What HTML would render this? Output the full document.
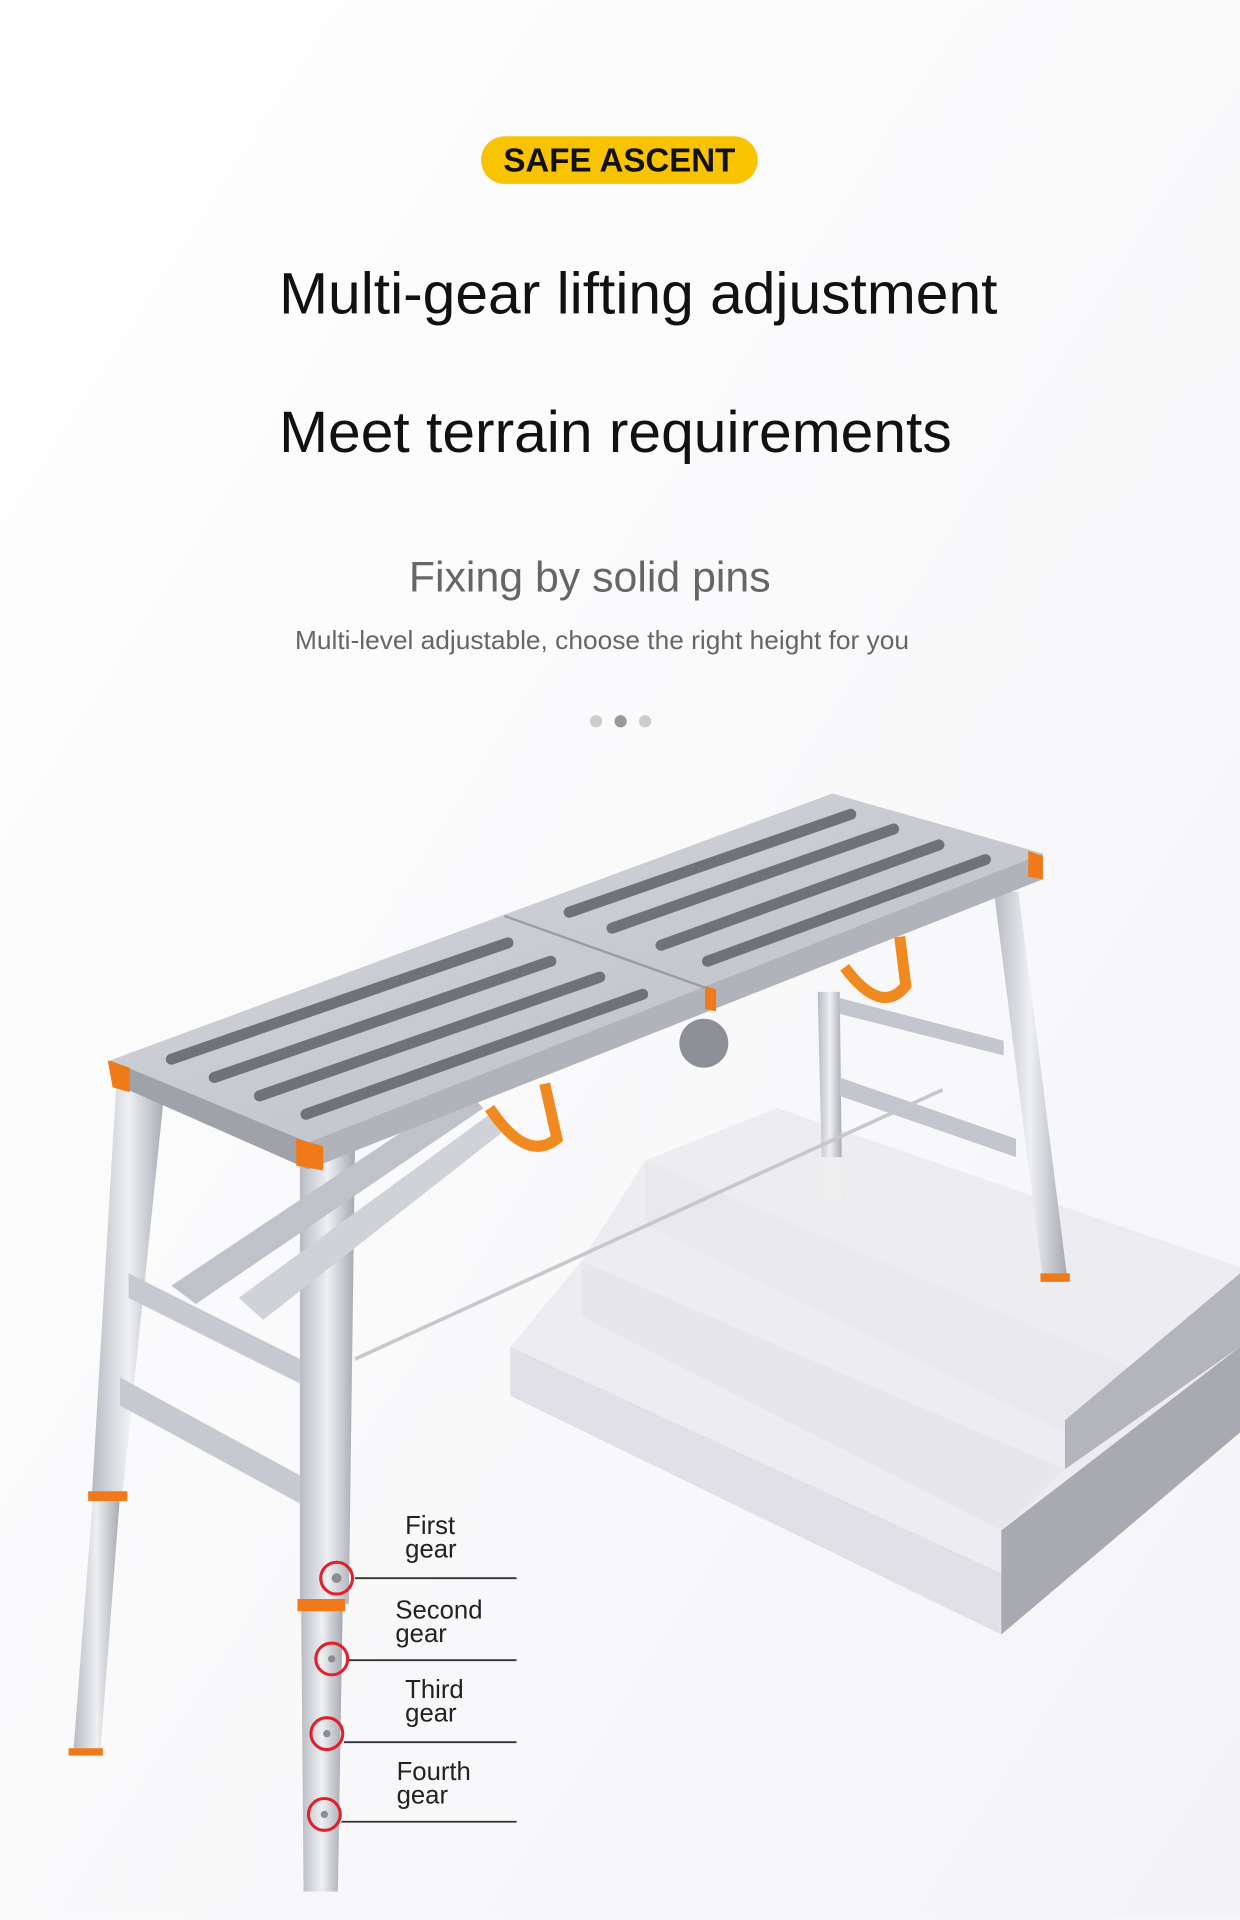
<!DOCTYPE html>
<html><head><meta charset="utf-8"><style>
html,body{margin:0;padding:0;background:#fff;}
svg{display:block;}
text{font-family:"Liberation Sans",Arial,sans-serif;}
</style></head><body>
<svg width="1240" height="1920" viewBox="0 0 1013 1568" xmlns="http://www.w3.org/2000/svg">
<defs>
<linearGradient id="bg" x1="0" y1="0" x2="1" y2="1"><stop offset="0" stop-color="#ffffff"/><stop offset="1" stop-color="#f4f4f7"/></linearGradient>
<linearGradient id="leg" x1="0" y1="0" x2="1" y2="0"><stop offset="0" stop-color="#b8bbc2"/><stop offset="0.5" stop-color="#eef0f3"/><stop offset="1" stop-color="#a5a8b0"/></linearGradient>
<linearGradient id="top" x1="0" y1="0" x2="1" y2="1"><stop offset="0" stop-color="#d6d8dd"/><stop offset="1" stop-color="#b9bcc3"/></linearGradient>
</defs>
<rect width="1013" height="1568" fill="url(#bg)"/>
<rect x="393" y="111" width="226" height="39" rx="19.5" fill="#f8c300"/>
<text x="506" y="140" font-size="27" font-weight="bold" text-anchor="middle" fill="#111">SAFE ASCENT</text>
<text x="228" y="256" font-size="48" fill="#111">Multi-gear lifting adjustment</text>
<text x="228" y="369" font-size="48" fill="#111">Meet terrain requirements</text>
<text x="334" y="483" font-size="35" fill="#666">Fixing by solid pins</text>
<text x="241" y="530" font-size="21.5" fill="#666">Multi-level adjustable, choose the right height for you</text>
<circle cx="487" cy="589" r="5" fill="#ccc"/><circle cx="507" cy="589" r="5" fill="#999"/><circle cx="527" cy="589" r="5" fill="#ccc"/>
<polygon points="417,1100 475,1030 527,948 635,905 1013,1035 1013,1170 818,1335 417,1140" fill="#ededf1"/>
<polygon points="417,1100 818,1285 818,1335 417,1140" fill="#e0e0e6"/>
<polygon points="475,1030 870,1200 818,1250 475,1075" fill="#e6e6eb"/>
<polygon points="527,948 930,1120 870,1170 527,1000" fill="#e8e8ed"/>
<polygon points="818,1250 1013,1100 1013,1170 818,1335" fill="#a9a9b2"/>
<polygon points="870,1160 1013,1040 1013,1100 870,1200" fill="#b4b4bc"/>
<polygon points="668,810 686,810 688,978 672,978" fill="url(#leg)"/>
<polygon points="812,728 832,728 872,1045 852,1045" fill="url(#leg)"/>
<polygon points="686,880 830,930 830,945 686,895" fill="#c3c6cc"/>
<polygon points="686,815 820,850 820,862 686,828" fill="#c3c6cc"/>
<rect x="670" y="945" width="18" height="35" fill="#eee"/>
<line x1="290" y1="1110" x2="770" y2="890" stroke="#c8c8cc" stroke-width="3"/>
<polygon points="95,885 135,885 100,1222 75,1222" fill="url(#leg)"/>
<polygon points="76,1222 98,1222 82,1430 60,1430" fill="url(#leg)"/>
<polygon points="245,935 290,935 285,1310 245,1310" fill="url(#leg)"/>
<polygon points="246,1310 280,1310 276,1545 248,1545" fill="url(#leg)"/>
<polygon points="105,1040 245,1110 245,1130 105,1060" fill="#c6c9cf"/>
<polygon points="98,1125 245,1205 245,1228 98,1148" fill="#c6c9cf"/>
<polygon points="140,1050 380,890 395,905 160,1065" fill="#bfc2c8"/>
<polygon points="195,1060 400,910 410,925 215,1078" fill="#cfd2d7"/>
<polygon points="72,1218 104,1218 104,1226 72,1226" fill="#f07a1a"/>
<polygon points="243,1306 282,1306 282,1316 243,1316" fill="#f07a1a"/>
<polygon points="56,1428 84,1428 84,1434 56,1434" fill="#f07a1a"/>
<polygon points="850,1040 874,1040 874,1047 850,1047" fill="#f07a1a"/>
<path d="M400,905 Q430,950 455,930 L445,885" fill="none" stroke="#f08a20" stroke-width="9"/>
<path d="M690,790 Q720,830 740,805 L735,765" fill="none" stroke="#f08a20" stroke-width="9"/>
<circle cx="575" cy="852" r="20" fill="#8e9097"/>
<polygon points="90,866 680,648 852,697 252,933" fill="url(#top)"/>
<polygon points="90,866 252,933 252,955 100,888" fill="#9fa2a9"/>
<polygon points="252,933 852,697 852,718 252,955" fill="#b0b3ba"/>
<line x1="412" y1="748" x2="580" y2="808" stroke="#9a9da4" stroke-width="2"/>
<g stroke="#6f7279" stroke-width="9" stroke-linecap="round">
<line x1="140" y1="865" x2="415" y2="770"/>
<line x1="175" y1="880" x2="450" y2="785"/>
<line x1="212" y1="895" x2="490" y2="798"/>
<line x1="250" y1="910" x2="525" y2="812"/>
<line x1="465" y1="745" x2="695" y2="665"/>
<line x1="500" y1="758" x2="730" y2="677"/>
<line x1="540" y1="772" x2="767" y2="690"/>
<line x1="578" y1="785" x2="805" y2="702"/>
</g>
<polygon points="88,866 106,872 106,892 92,888" fill="#f07a1a"/>
<polygon points="242,930 264,936 264,956 242,952" fill="#f07a1a"/>
<polygon points="840,695 852,699 852,718 840,716" fill="#f07a1a"/>
<polygon points="576,805 585,808 585,826 576,824" fill="#f07a1a"/>
<g font-size="21" fill="#222">
<text x="331" y="1253">First</text><text x="331" y="1272">gear</text>
<text x="323" y="1322">Second</text><text x="323" y="1341">gear</text>
<text x="331" y="1387">Third</text><text x="331" y="1406">gear</text>
<text x="324" y="1454">Fourth</text><text x="324" y="1473">gear</text>
</g>
<g stroke="#333" stroke-width="1.5">
<line x1="290" y1="1289" x2="422" y2="1289"/>
<line x1="285" y1="1356" x2="422" y2="1356"/>
<line x1="281" y1="1423" x2="422" y2="1423"/>
<line x1="279" y1="1488" x2="422" y2="1488"/>
</g>
<g fill="none" stroke="#e0202a" stroke-width="2.5">
<circle cx="275" cy="1289" r="13"/><circle cx="271" cy="1355" r="13"/>
<circle cx="267" cy="1416" r="13"/><circle cx="265" cy="1482" r="13"/>
</g>
<g fill="#8a8c92"><circle cx="275" cy="1289" r="4"/><circle cx="271" cy="1355" r="3"/><circle cx="267" cy="1416" r="3"/><circle cx="265" cy="1482" r="3"/></g>
</svg>
</body></html>
